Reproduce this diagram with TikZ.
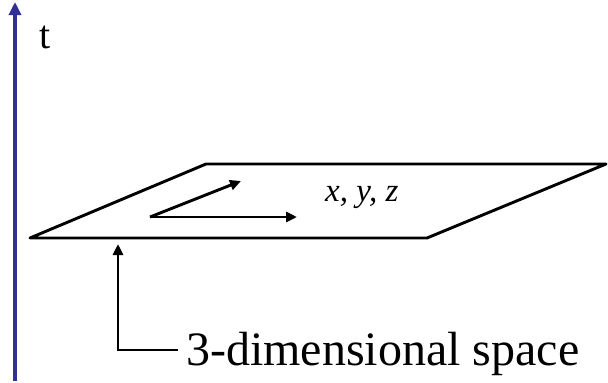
\documentclass[tikz,border=0pt]{standalone}
\usepackage{fontspec}
\setmainfont{Liberation Serif}
\usetikzlibrary{arrows.meta}
\definecolor{axisblue}{RGB}{48,48,150}
\begin{document}
\begin{tikzpicture}[x=1pt,y=-1pt,
  edge/.style={line width=2.9pt,black,line cap=round,line join=round},
  arrowline/.style={line width=2.9pt,black,-{Triangle[length=11pt,width=10pt]}},
  axis/.style={line width=3.2pt,axisblue,-{Triangle[length=13pt,width=12pt]}},
  lbl/.style={inner sep=0pt,anchor=base west}]
\useasboundingbox (0,0) rectangle (608,383);
% time axis
\coordinate (tb) at (15,381);
\coordinate (tt) at (15,2);
\draw[axis] (tb) -- (tt);
\node[lbl,font=\fontsize{40}{44}\selectfont] (t) at (39,48) {t};
% plane
\coordinate (p1) at (30,238);
\coordinate (p2) at (427,238);
\coordinate (p3) at (606,164);
\coordinate (p4) at (206,164);
\draw[edge] (p1) -- (p2) -- (p3) -- (p4) -- cycle;
% inner axes
\coordinate (o) at (150,217);
\coordinate (ox) at (297,217);
\coordinate (oy) at (241,181);
\draw[arrowline] (o) -- (ox);
\draw[arrowline] (o) -- (oy);
\node[lbl,font=\fontsize{33}{36}\selectfont\itshape] (xyz) at (325,201) {x, y, z};
% label pointer
\coordinate (lc) at (118,350);
\coordinate (lt) at (118,244);
\node[lbl,font=\fontsize{48}{52}\selectfont] (lab) at (186,365) {3-dimensional space};
\draw[arrowline] (lab.west |- lc) ++(-8,0) coordinate (le) -- (lc) -- (lt);
\end{tikzpicture}
\end{document}
